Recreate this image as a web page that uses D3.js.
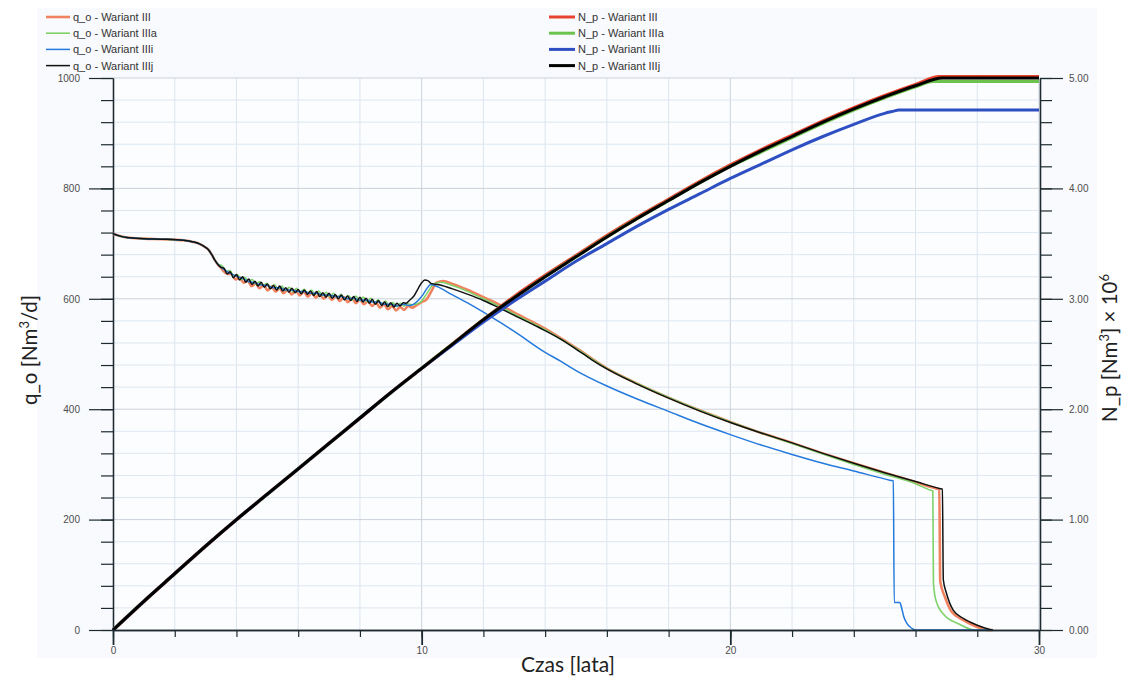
<!DOCTYPE html>
<html><head><meta charset="utf-8">
<script src="https://cdn.jsdelivr.net/npm/d3@7"></script>
<style>body{margin:0;background:#fff;} svg{display:block;}</style>
</head><body><svg id="c" width="1123" height="679"></svg>
<script>
// ---- data: [years, q_o Nm3/d] ----
const qoIII = [[0,718],[0.2,714],[0.45,711],[1.0,709],[1.6,708],[2.28,706],[2.6,703],[2.82,699],[3.0,693],[3.09,689],[3.2,680],[3.3,670],[3.4,662],[3.5,656],
[3.58,650],[3.71,645],[3.84,645],[3.97,635],[4.1,639],[4.23,629],[4.36,633],[4.49,623],[4.62,628],[4.75,619],[4.88,625],[5.01,615],[5.14,622],[5.27,613],[5.4,619],[5.53,610],[5.66,617],[5.79,608],[5.92,615],[6.05,606],[6.18,613],[6.31,604],[6.44,611],[6.57,602],[6.7,609],[6.83,600],[6.96,607],[7.09,598],[7.22,605],[7.35,596],[7.48,603],[7.61,594],[7.74,601],[7.87,592],[8.0,599],[8.13,590],[8.26,596],[8.39,587],[8.52,593],[8.65,584],[8.78,590],[8.91,581],[9.04,587],[9.17,579],[9.3,585],[9.43,580],[9.56,587],[9.7,584],[9.85,589],[10.0,594],[10.16,599],[10.3,612],[10.48,629],[10.7,632],[11.0,627],[11.5,616],[12.0,603],[12.5,590],[13.0,575],[14.0,546],[15.0,511],[16.0,474],[17.0,446],[18.0,421],[19.0,398],[20.0,377],[21.0,357],[22.0,339],[23.0,320],[24.0,302],[25.0,285],[26.0,268],[26.7,256],[26.77,255],[26.8,88],[26.95,60],[27.17,33],[27.55,18],[27.98,6],[28.25,1],[28.3,0],[28.5,0]];
const qoIIIa = [[0,718],[0.2,714],[0.45,711],[1.0,709],[1.6,708],[2.28,706],[2.6,703],[2.82,699],[3.0,693],[3.09,689],[3.2,680],[3.3,670],[3.4,663],[3.55,659],
[3.67,650],[3.79,651],[3.91,641],[4.03,644],[4.15,635],[4.27,639],[4.39,631],[4.51,635],[4.63,627],[4.75,631],[4.87,624],[4.99,628],[5.11,620],[5.23,626],[5.35,618],[5.47,623],[5.59,615],[5.71,621],[5.83,613],[5.95,619],[6.07,611],[6.19,617],[6.31,610],[6.43,616],[6.55,608],[6.67,614],[6.79,606],[6.91,612],[7.03,604],[7.15,610],[7.27,602],[7.39,608],[7.51,600],[7.63,606],[7.75,598],[7.87,605],[7.99,597],[8.11,603],[8.23,595],[8.35,601],[8.47,592],[8.59,598],[8.71,590],[8.83,596],[8.95,587],[9.07,593],[9.19,586],[9.31,592],[9.43,587],[9.55,591],[9.7,589],[9.94,593],[10.15,608],[10.38,626],[10.6,630],[11.0,624],[11.5,613],[12.0,600],[12.5,587],[13.0,572],[14.0,544],[15.0,510],[16.0,474],[17.0,446],[18.0,421],[19.0,398],[20.0,377],[21.0,357],[22.0,338],[23.0,319],[24.0,300],[25.0,282],[26.0,265],[26.5,253],[26.56,252],[26.58,85],[26.66,54],[26.93,27],[27.36,12],[27.81,1],[27.9,0],[28.5,0]];
const qoIIIi = [[0,718],[0.2,714],[0.45,711],[1.0,709],[1.6,708],[2.28,706],[2.6,703],[2.82,699],[3.0,693],[3.09,689],[3.2,680],[3.3,670],[3.4,662],[3.5,657],
[3.6,653],[3.8,646],[4.0,641],[4.2,637],[4.4,631],[4.6,629],[4.8,625],[5.0,624],[5.2,620],[5.4,620],[5.6,616],[5.8,616],[6.0,613],[6.2,613],[6.4,610],[6.6,610],[6.8,607],[7.0,607],[7.2,604],[7.4,604],[7.6,600],[7.8,601],[8.0,598],[8.2,598],[8.4,594],[8.6,594],[8.8,590],[9.0,590],[9.2,587],[9.4,590],[9.6,588],[9.73,590],[9.9,598],[10.05,608],[10.15,617],[10.3,626],[10.5,622],[11.0,607],[11.5,592],[12.2,569],[13.0,541],[14.0,503],[14.5,487],[15.0,470],[16.0,442],[17.0,418],[18.0,396],[19.0,374],[20.0,354],[21.0,335],[22.0,318],[23.0,302],[24.0,288],[25.2,271],[25.28,270],[25.31,50],[25.49,50],[25.55,40],[25.62,24],[25.72,12],[25.88,3],[25.98,0],[28.5,0]];
const qoIIIj = [[0,718],[0.2,714],[0.45,711],[1.0,709],[1.6,708],[2.28,706],[2.6,703],[2.82,699],[3.0,693],[3.09,689],[3.2,680],[3.3,670],[3.4,662],[3.5,657],
[3.6,655],[3.7,645],[3.8,649],[3.9,638],[4.0,644],[4.1,634],[4.2,640],[4.3,630],[4.4,636],[4.5,626],[4.6,632],[4.7,623],[4.8,630],[4.9,621],[5.0,627],[5.1,618],[5.2,624],[5.3,616],[5.4,623],[5.5,614],[5.6,620],[5.7,612],[5.8,619],[5.9,611],[6.0,617],[6.1,609],[6.2,616],[6.3,608],[6.4,614],[6.5,606],[6.6,613],[6.7,604],[6.8,611],[6.9,603],[7.0,610],[7.1,601],[7.2,608],[7.3,600],[7.4,607],[7.5,598],[7.6,605],[7.7,597],[7.8,604],[7.9,595],[8.0,603],[8.1,594],[8.2,601],[8.3,592],[8.4,599],[8.5,590],[8.6,597],[8.7,588],[8.8,594],[8.9,586],[9.0,593],[9.1,585],[9.2,592],[9.3,587],[9.4,593],[9.5,592],[9.6,597],[9.75,605],[9.9,620],[10.0,629],[10.1,634],[10.2,633],[10.3,628],[10.6,625],[11.0,618],[11.5,608],[12.0,597],[12.5,584],[13.0,570],[13.8,548],[14.5,527],[15.0,509],[15.5,490],[16.0,473],[17.0,445],[18.0,420],[19.0,397],[20.0,376],[21.0,357],[22.0,339],[23.0,320],[24.0,302],[25.0,285],[26.0,269],[26.8,256],[26.87,255],[26.9,91],[27.0,67],[27.22,36],[27.55,21],[27.98,9],[28.41,1],[28.5,0]];

// ---- data: [years, N_p x10^6 Nm3] ----
const npIII = [[0,0],[1,0.26],[2,0.51],[3,0.76],[4,1.00],[5,1.23],[6,1.46],[7,1.69],[8,1.92],[9,2.15],[10,2.37],[11,2.59],[12,2.81],[13,3.02],[14,3.21],[15,3.39],[16,3.57],[17,3.74],[18,3.90],[19,4.06],[20,4.21],[21,4.35],[22,4.48],[23,4.61],[24,4.73],[25,4.84],[26,4.94],[26.77,5.01],[30,5.01]];
const npIIIa = [[0,0],[1,0.26],[2,0.51],[3,0.76],[4,1.00],[5,1.23],[6,1.46],[7,1.69],[8,1.92],[9,2.15],[10,2.37],[11,2.59],[12,2.81],[13,3.01],[14,3.20],[15,3.38],[16,3.56],[17,3.73],[18,3.89],[19,4.05],[20,4.20],[21,4.33],[22,4.46],[23,4.59],[24,4.71],[25,4.82],[26,4.92],[26.57,4.97],[30,4.97]];
const npIIIi = [[0,0],[1,0.26],[2,0.51],[3,0.76],[4,1.00],[5,1.23],[6,1.46],[7,1.69],[8,1.92],[9,2.15],[10,2.37],[11,2.58],[12,2.79],[13,2.98],[14,3.16],[15,3.34],[16,3.50],[17,3.66],[18,3.81],[19,3.95],[20,4.09],[21,4.22],[22,4.35],[23,4.47],[24,4.58],[25,4.68],[25.3,4.70],[25.45,4.71],[30,4.71]];
const npIIIj = [[0,0],[1,0.26],[2,0.51],[3,0.76],[4,1.00],[5,1.23],[6,1.46],[7,1.69],[8,1.92],[9,2.15],[10,2.37],[11,2.59],[12,2.81],[13,3.01],[14,3.20],[15,3.38],[16,3.56],[17,3.73],[18,3.89],[19,4.05],[20,4.20],[21,4.34],[22,4.47],[23,4.60],[24,4.72],[25,4.83],[26,4.93],[26.87,5.00],[30,5.00]];

// ---- labels / ticks ----
const legendLeft = ["q_o - Wariant III","q_o - Wariant IIIa","q_o - Wariant IIIi","q_o - Wariant IIIj"];
const legendRight = ["N_p - Wariant III","N_p - Wariant IIIa","N_p - Wariant IIIi","N_p - Wariant IIIj"];
const leftTicks = [0,200,400,600,800,1000];
const rightTicks = [0,1,2,3,4,5];
const xTicks = [0,10,20,30];

const svg = d3.select("#c");
const x = d3.scaleLinear().domain([0,30]).range([113,1039]);
const yL = d3.scaleLinear().domain([0,1000]).range([630,78]);
const yR = d3.scaleLinear().domain([0,5]).range([630,78]);

svg.append("rect").attr("x",37).attr("y",8).attr("width",1060).attr("height",650).attr("fill","#f9fafd");
svg.append("rect").attr("x",x(0)).attr("y",yL(1000)).attr("width",x(30)-x(0)).attr("height",yL(0)-yL(1000)).attr("fill","#fcfdfe");

// grid
const grid = svg.append("g");
d3.range(2,31,2).forEach(v=>{
  grid.append("line").attr("x1",x(v)).attr("x2",x(v)).attr("y1",yL(0)).attr("y2",yL(1000))
    .attr("stroke", v%10===0 ? "#c9d3dc" : "#dbe6ef").attr("stroke-width",1);
});
d3.range(40,1001,40).forEach(v=>{
  grid.append("line").attr("x1",x(0)).attr("x2",x(30)).attr("y1",yL(v)).attr("y2",yL(v))
    .attr("stroke", v%200===0 ? "#cbd2da" : "#dde7f0").attr("stroke-width",1);
});

const tickFont = "'Liberation Sans', Arial, sans-serif";
function styleAxis(g){
  g.selectAll(".domain").attr("stroke","#1d2b30").attr("stroke-width",1.3);
  g.selectAll(".tick line").attr("stroke","#1d2b30").attr("stroke-width",1.2);
  g.selectAll("text").attr("fill","#4d4d4d").style("font-family",tickFont).style("font-size","10px");
}
// left axis
const gl1 = svg.append("g").attr("transform",`translate(${x(0)},0)`)
  .call(d3.axisLeft(yL).tickValues(d3.range(0,1001,40)).tickSize(12).tickSizeOuter(0).tickFormat(""));
styleAxis(gl1);
const gl2 = svg.append("g").attr("transform",`translate(${x(0)},0)`)
  .call(d3.axisLeft(yL).tickValues(leftTicks).tickSize(24).tickSizeOuter(0).tickPadding(9).tickFormat(d3.format("d")));
styleAxis(gl2);
// right axis
const gr1 = svg.append("g").attr("transform",`translate(${x(30)+1},0)`)
  .call(d3.axisRight(yR).tickValues(d3.range(0,5.01,0.2)).tickSize(12).tickSizeOuter(0).tickFormat(""));
styleAxis(gr1);
const gr2 = svg.append("g").attr("transform",`translate(${x(30)+1},0)`)
  .call(d3.axisRight(yR).tickValues(rightTicks).tickSize(23).tickSizeOuter(0).tickPadding(6).tickFormat(d3.format(".2f")));
styleAxis(gr2);

// series
const lineL = d3.line().curve(d3.curveMonotoneX).x(d=>x(d[0])).y(d=>yL(d[1]));
const lineR = d3.line().curve(d3.curveMonotoneX).x(d=>x(d[0])).y(d=>yR(d[1]));
const qoSeries = [
  {d:qoIII, c:"#f0825f", w:2.6},
  {d:qoIIIa, c:"#7fd26a", w:1.6},
  {d:qoIIIi, c:"#2479dc", w:1.5},
  {d:qoIIIj, c:"#111111", w:1.5}
];
const npSeries = [
  {d:npIII, c:"#e8432f", w:3.6},
  {d:npIIIa, c:"#6cc24c", w:3.2},
  {d:npIIIi, c:"#2d4fc2", w:3},
  {d:npIIIj, c:"#000000", w:3}
];
qoSeries.forEach(s=>svg.append("path").attr("d",lineL(s.d)).attr("fill","none").attr("stroke",s.c).attr("stroke-width",s.w).attr("stroke-linejoin","round"));
npSeries.forEach(s=>svg.append("path").attr("d",lineR(s.d)).attr("fill","none").attr("stroke",s.c).attr("stroke-width",s.w).attr("stroke-linejoin","round"));

// bottom axis
const gb1 = svg.append("g").attr("transform",`translate(0,${yL(0)})`)
  .call(d3.axisBottom(x).tickValues(d3.range(0,31,2)).tickSize(7).tickSizeOuter(0).tickFormat(""));
styleAxis(gb1);
const gb2 = svg.append("g").attr("transform",`translate(0,${yL(0)})`)
  .call(d3.axisBottom(x).tickValues(xTicks).tickSize(15).tickSizeOuter(0).tickPadding(2).tickFormat(d3.format("d")));
styleAxis(gb2);
gb2.selectAll(".tick line").attr("stroke-width",1.8);

// legends
const lg = svg.append("g").style("font-family",tickFont).style("font-size","11px");
legendLeft.forEach((t,i)=>{
  const y = 17 + i*16.2;
  lg.append("line").attr("x1",46).attr("x2",70).attr("y1",y).attr("y2",y).attr("stroke",qoSeries[i].c).attr("stroke-width",qoSeries[i].w);
  lg.append("text").attr("x",73).attr("y",y+4).attr("fill","#333").text(t);
});
legendRight.forEach((t,i)=>{
  const y = 17 + i*16.2;
  lg.append("line").attr("x1",549).attr("x2",575).attr("y1",y).attr("y2",y).attr("stroke",npSeries[i].c).attr("stroke-width",3);
  lg.append("text").attr("x",578).attr("y",y+4).attr("fill","#333").text(t);
});

// axis titles
const titleFont = "Lato, 'Open Sans', sans-serif";
const tl = svg.append("text").attr("transform","translate(37,350) rotate(-90)").attr("text-anchor","middle")
  .style("font-family",titleFont).style("font-size","20.5px").attr("fill","#222");
tl.append("tspan").text("q_o [Nm");
tl.append("tspan").attr("dy",-8).style("font-size","13px").text("3");
tl.append("tspan").attr("dy",8).text("/d]");

const tr = svg.append("text").attr("transform","translate(1117,348) rotate(-90)").attr("text-anchor","middle")
  .style("font-family",titleFont).style("font-size","20.5px").attr("fill","#222");
tr.append("tspan").text("N_p [Nm");
tr.append("tspan").attr("dy",-8).style("font-size","13px").text("3");
tr.append("tspan").attr("dy",8).text("] \u00d7 10");
tr.append("tspan").attr("dy",-8).style("font-size","13px").text("6");

svg.append("text").attr("x",568).attr("y",672).attr("text-anchor","middle")
  .style("font-family",titleFont).style("font-size","21px").attr("fill","#222").text("Czas [lata]");
</script>
</body></html>
